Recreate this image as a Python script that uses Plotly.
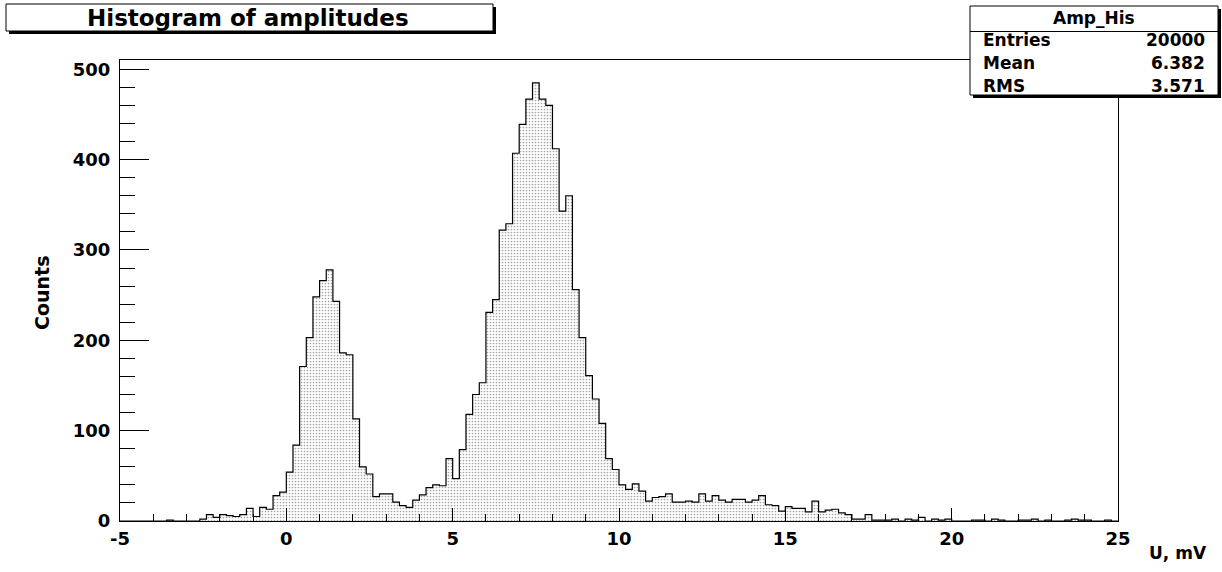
import plotly.graph_objects as go

# ---------------- data ----------------
x_min = -5.0
x_max = 25.0
n_bins = 150
counts = [
    0, 0, 0, 0, 0, 0, 0, 1, 0, 0,
    0, 0, 2, 7, 4, 7, 6, 5, 7, 14,
    5, 15, 13, 28, 32, 54, 84, 171, 203, 248,
    266, 278, 243, 186, 184, 113, 60, 52, 27, 30,
    30, 21, 17, 15, 23, 29, 37, 40, 39, 69,
    47, 79, 118, 140, 153, 231, 245, 322, 329, 407,
    439, 467, 485, 467, 460, 412, 343, 360, 256, 203,
    161, 135, 108, 69, 57, 40, 35, 41, 33, 22,
    26, 27, 30, 21, 21, 22, 21, 30, 22, 28,
    23, 21, 24, 24, 21, 23, 28, 18, 17, 11,
    16, 14, 14, 10, 22, 10, 12, 13, 9, 7,
    2, 2, 7, 1, 1, 1, 2, 0, 2, 1,
    4, 0, 2, 1, 2, 0, 0, 0, 1, 1,
    0, 2, 1, 0, 0, 1, 1, 2, 0, 1,
    0, 0, 1, 2, 1, 1, 0, 0, 1, 0,
]
x_ticks = [-5, 0, 5, 10, 15, 20, 25]
x_tick_text = ["-5", "0", "5", "10", "15", "20", "25"]
y_ticks = [0, 100, 200, 300, 400, 500]
title_text = "Histogram of amplitudes"
stats_name = "Amp_His"
stats_labels = ["Entries", "Mean", "RMS"]
stats_values = ["20000", "6.382", "3.571"]
x_title = "U, mV"
y_title = "Counts"

# ---------------- figure ----------------
W, H = 1222, 572
L, R, T, B = 120, 104, 60, 51
bw = (x_max - x_min) / n_bins
edges = [x_min + i * bw for i in range(n_bins + 1)]
ys = counts + [counts[-1]]
y_top = max(counts) * 1.052

FONT = "DejaVu Sans"


def px(x):
    return (x - L) / (W - L - R)


def py(y):
    return (H - B - y) / (H - T - B)


fig = go.Figure()
fig.add_trace(go.Scatter(
    x=edges, y=ys, mode="lines", line=dict(shape="hv", color="black", width=1.2),
    fill="tozeroy",
    fillcolor="rgba(0,0,0,0)",
    fillpattern=dict(shape=".", fgcolor="#4a4a4a", bgcolor="white", size=3, solidity=0.25),
    hoverinfo="skip", showlegend=False,
))

axis_common = dict(
    showline=True, mirror=True, linecolor="black", linewidth=1,
    showgrid=False, zeroline=False, ticks="inside", tickcolor="black",
    tickfont=dict(family=FONT, size=18, color="black", weight="bold"),
)
fig.update_xaxes(range=[x_min, x_max], tickvals=x_ticks, ticktext=x_tick_text, ticklen=13,
                 minor=dict(dtick=1, ticklen=7, ticks="inside", tickcolor="black", showgrid=False),
                 ticklabelstandoff=1, **axis_common)
fig.update_yaxes(range=[0, y_top], tickvals=y_ticks, ticklen=29,
                 minor=dict(dtick=20, ticklen=15, ticks="inside", tickcolor="black", showgrid=False),
                 ticklabelstandoff=5, **axis_common)

shapes = []
annotations = []


def shadow_box(x0, y0, x1, y1, off=3):
    shapes.append(dict(type="rect", xref="paper", yref="paper",
                       x0=px(x0 + off), x1=px(x1 + off), y0=py(y0 + off), y1=py(y1 + off),
                       fillcolor="black", line=dict(width=0), layer="above"))
    shapes.append(dict(type="rect", xref="paper", yref="paper",
                       x0=px(x0), x1=px(x1), y0=py(y0), y1=py(y1),
                       fillcolor="white", line=dict(color="black", width=1), layer="above"))


# title box
shadow_box(6, 4, 493, 31)
annotations.append(dict(xref="paper", yref="paper", x=px(248), y=py(18), text=title_text,
                        showarrow=False, xanchor="center", yanchor="middle",
                        font=dict(family=FONT, size=23, color="black", weight="bold")))

# stats box
shadow_box(970, 6, 1218, 95)
shapes.append(dict(type="line", xref="paper", yref="paper", x0=px(970), x1=px(1218),
                   y0=py(31.5), y1=py(31.5), line=dict(color="black", width=1), layer="above"))
annotations.append(dict(xref="paper", yref="paper", x=px(1094), y=py(18), text=stats_name,
                        showarrow=False, xanchor="center", yanchor="middle",
                        font=dict(family=FONT, size=17, color="black", weight="bold")))
row_y = [40, 63, 85.5]
for lab, val, yy in zip(stats_labels, stats_values, row_y):
    annotations.append(dict(xref="paper", yref="paper", x=px(981), y=py(yy), text=lab,
                            showarrow=False, xanchor="left", yanchor="middle",
                            font=dict(family=FONT, size=17, color="black", weight="bold")))
    annotations.append(dict(xref="paper", yref="paper", x=px(1207), y=py(yy), text=val,
                            showarrow=False, xanchor="right", yanchor="middle",
                            font=dict(family=FONT, size=17, color="black", weight="bold")))

# axis titles
annotations.append(dict(xref="paper", yref="paper", x=px(1209), y=py(553), text=x_title,
                        showarrow=False, xanchor="right", yanchor="middle",
                        font=dict(family=FONT, size=17, color="black", weight="bold")))
annotations.append(dict(xref="paper", yref="paper", x=px(42), y=py(293), text=y_title,
                        showarrow=False, xanchor="center", yanchor="middle", textangle=-90,
                        font=dict(family=FONT, size=19, color="black", weight="bold")))

fig.update_layout(
    width=W, height=H, margin=dict(l=L, r=R, t=T, b=B, pad=0),
    paper_bgcolor="white", plot_bgcolor="white",
    shapes=shapes, annotations=annotations, showlegend=False,
)

fig.write_html("out.html")
